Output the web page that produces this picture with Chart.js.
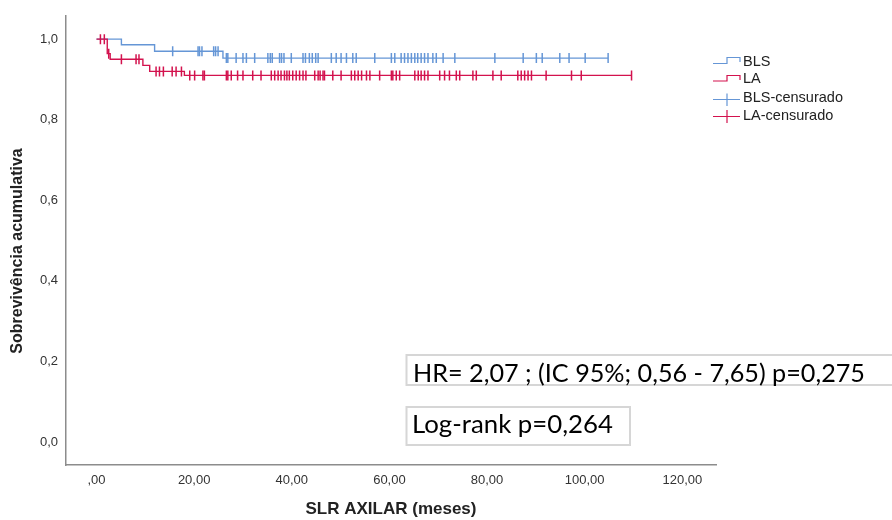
<!DOCTYPE html>
<html><head><meta charset="utf-8">
<script src="https://cdn.jsdelivr.net/npm/chart.js@4"></script>
<style>html,body{margin:0;padding:0;background:#fff}#wrap{width:892px;height:520px;position:relative}</style>
</head><body><div id="wrap"><canvas id="c" width="892" height="520"></canvas></div>
<script>
// ---- data ----
const blsEventTimes = [0, 5.1, 11.9, 25.9];
const blsSurvival   = [1.0, 0.986, 0.970, 0.953];
const blsLastTime   = 104.8;
const blsCensorTimes = [15.6, 20.8, 21.1, 21.6, 24.0, 24.4, 24.9, 26.6, 26.9, 28.6, 30.0, 30.7, 32.4, 35.1, 35.6, 36.0, 37.5, 37.9, 38.4, 39.9, 42.3, 42.8, 43.6, 44.2, 44.9, 45.4, 48.1, 49.1, 50.1, 51.2, 52.5, 53.2, 57.0, 60.4, 61.1, 62.4, 63.1, 63.8, 64.5, 65.2, 65.8, 66.5, 67.2, 67.9, 68.9, 69.6, 71.0, 73.4, 81.6, 87.4, 90.1, 91.3, 94.9, 96.8, 100.1, 104.8];

const laEventTimes = [0, 2.2, 2.8, 9.5, 10.9, 18.0];
const laSurvival   = [1.0, 0.964, 0.950, 0.935, 0.920, 0.910];
const laLastTime   = 109.6;
const laCensorTimes = [0.8, 1.6, 2.5, 5.1, 8.1, 8.7, 12.2, 12.9, 13.7, 15.5, 16.3, 17.4, 19.1, 20.1, 21.8, 22.1, 26.6, 26.9, 27.6, 28.9, 30.0, 32.0, 33.7, 35.8, 36.5, 37.2, 37.8, 38.5, 39.0, 39.5, 40.2, 40.9, 41.6, 42.3, 42.9, 44.7, 45.4, 45.8, 46.4, 46.7, 48.4, 50.1, 52.2, 52.9, 53.6, 54.3, 55.3, 56.0, 58.0, 60.4, 60.7, 61.4, 62.1, 65.2, 65.9, 66.5, 67.2, 67.9, 70.3, 71.3, 72.3, 73.7, 74.4, 77.1, 77.8, 81.2, 82.9, 86.3, 87.0, 87.7, 88.4, 89.1, 92.1, 97.3, 99.3, 109.6];

const xTicks = [0, 20, 40, 60, 80, 100, 120];
const yTicks = [0, 0.2, 0.4, 0.6, 0.8, 1.0];
const seriesNames = ['BLS', 'LA', 'BLS-censurado', 'LA-censurado'];
const xTitle = 'SLR AXILAR (meses)';
const yTitle = 'Sobrevivência acumulativa';
const hrText = 'HR= 2,07 ; (IC 95%; 0,56 - 7,65) p=0,275';
const logrankText = 'Log-rank p=0,264';

const BLUE = '#6596d6';
const RED = '#d3124e';

function survAt(times, surv, t) {
  let s = surv[0];
  for (let i = 0; i < times.length; i++) if (times[i] <= t) s = surv[i];
  return s;
}
function stepPoints(times, surv, last) {
  const pts = [{x: times[0], y: surv[0]}];
  for (let i = 1; i < times.length; i++) {
    pts.push({x: times[i], y: surv[i - 1]});
    pts.push({x: times[i], y: surv[i]});
  }
  pts.push({x: last, y: surv[surv.length - 1]});
  return pts;
}
function censorPoints(ct, times, surv) {
  return ct.map(t => ({x: t, y: survAt(times, surv, t)}));
}

const overlay = {
  id: 'overlay',
  afterDraw(chart) {
    const ctx = chart.ctx;
    ctx.save();
    // y axis title
    ctx.save();
    ctx.translate(18, 251);
    ctx.rotate(-Math.PI / 2);
    ctx.fillStyle = '#222';
    ctx.font = 'bold 16px "Liberation Sans", Arial, sans-serif';
    ctx.textAlign = 'center';
    ctx.textBaseline = 'middle';
    ctx.fillText(yTitle, 0, 0);
    ctx.restore();

    // legend
    const lx0 = 713, lx1 = 740, tx = 743;
    ctx.lineWidth = 1.2;
    ctx.strokeStyle = BLUE;
    ctx.beginPath(); ctx.moveTo(lx0, 63.5); ctx.lineTo(727, 63.5); ctx.lineTo(727, 57.5); ctx.lineTo(lx1, 57.5); ctx.lineTo(lx1, 62); ctx.stroke();
    ctx.strokeStyle = RED;
    ctx.beginPath(); ctx.moveTo(lx0, 81); ctx.lineTo(727, 81); ctx.lineTo(727, 75.5); ctx.lineTo(lx1, 75.5); ctx.lineTo(lx1, 80); ctx.stroke();
    ctx.strokeStyle = BLUE;
    ctx.beginPath(); ctx.moveTo(lx0, 99.5); ctx.lineTo(lx1, 99.5); ctx.moveTo(727, 93.5); ctx.lineTo(727, 106); ctx.stroke();
    ctx.strokeStyle = RED;
    ctx.beginPath(); ctx.moveTo(lx0, 116.5); ctx.lineTo(lx1, 116.5); ctx.moveTo(727, 110); ctx.lineTo(727, 123); ctx.stroke();
    ctx.fillStyle = '#222';
    ctx.font = '14.5px "Liberation Sans", Arial, sans-serif';
    ctx.textBaseline = 'middle';
    ctx.textAlign = 'left';
    const ly = [61.7, 79.3, 98.3, 116];
    seriesNames.forEach((n, i) => ctx.fillText(n, tx, ly[i]));

    // annotation boxes
    ctx.strokeStyle = '#d6d6d6';
    ctx.lineWidth = 2;
    ctx.strokeRect(406.5, 355, 495, 30);
    ctx.strokeRect(406.5, 407, 223.5, 38);
    ctx.fillStyle = '#000';
    ctx.textBaseline = 'alphabetic';
    ctx.font = '24px Lato, sans-serif';
    const w1 = ctx.measureText(hrText).width;
    const f1 = 24 * 452 / w1;
    ctx.font = f1.toFixed(2) + 'px Lato, sans-serif';
    ctx.fillText(hrText, 413, 381.5);
    ctx.font = '24px Lato, sans-serif';
    const w2 = ctx.measureText(logrankText).width;
    const f2 = 24 * 201 / w2;
    ctx.font = f2.toFixed(2) + 'px Lato, sans-serif';
    ctx.fillText(logrankText, 412, 433);
    ctx.restore();
  }
};

const axisFont = {family: '"Liberation Sans", Arial, sans-serif', size: 13};

new Chart(document.getElementById('c'), {
  type: 'scatter',
  data: {
    datasets: [
      {label: seriesNames[3], data: censorPoints(laCensorTimes, laEventTimes, laSurvival), showLine: false,
        pointStyle: 'line', rotation: 90, pointRadius: 5, borderColor: RED, backgroundColor: RED, pointBorderWidth: 1.5},
      {label: seriesNames[2], data: censorPoints(blsCensorTimes, blsEventTimes, blsSurvival), showLine: false,
        pointStyle: 'line', rotation: 90, pointRadius: 5, borderColor: BLUE, backgroundColor: BLUE, pointBorderWidth: 1.5},
      {label: seriesNames[1], data: stepPoints(laEventTimes, laSurvival, laLastTime), showLine: true,
        borderColor: RED, borderWidth: 1.4, pointRadius: 0, fill: false, tension: 0},
      {label: seriesNames[0], data: stepPoints(blsEventTimes, blsSurvival, blsLastTime), showLine: true,
        borderColor: BLUE, borderWidth: 1.4, pointRadius: 0, fill: false, tension: 0}
    ]
  },
  options: {
    responsive: false,
    animation: false,
    devicePixelRatio: 1,
    layout: {padding: {left: 0, right: 176, top: 15, bottom: 0}},
    plugins: {legend: {display: false}, tooltip: {enabled: false}},
    scales: {
      x: {
        type: 'linear', min: -6.25, max: 126.9,
        afterBuildTicks: s => { s.ticks = xTicks.map(v => ({value: v})); },
        afterFit: s => { s.height = 55; },
        grid: {display: false, drawTicks: false},
        border: {display: true, color: '#8c8c8c', width: 1.5},
        ticks: {padding: 8, color: '#333', font: axisFont, maxRotation: 0,
          callback: v => v === 0 ? ',00' : v.toFixed(2).replace('.', ',')},
        title: {display: true, text: xTitle, color: '#222', padding: {top: 0, bottom: 0},
          font: {family: '"Liberation Sans", Arial, sans-serif', size: 17, weight: 'bold'}}
      },
      y: {
        type: 'linear', min: -0.057, max: 1.058,
        afterBuildTicks: s => { s.ticks = yTicks.map(v => ({value: v})); },
        afterFit: s => { s.width = 66; },
        grid: {display: false, drawTicks: false},
        border: {display: true, color: '#8c8c8c', width: 1.5},
        ticks: {padding: 8, color: '#333', font: axisFont,
          callback: v => v.toFixed(1).replace('.', ',')},
        title: {display: false, text: yTitle}
      }
    }
  },
  plugins: [overlay]
});
</script>
</body></html>
